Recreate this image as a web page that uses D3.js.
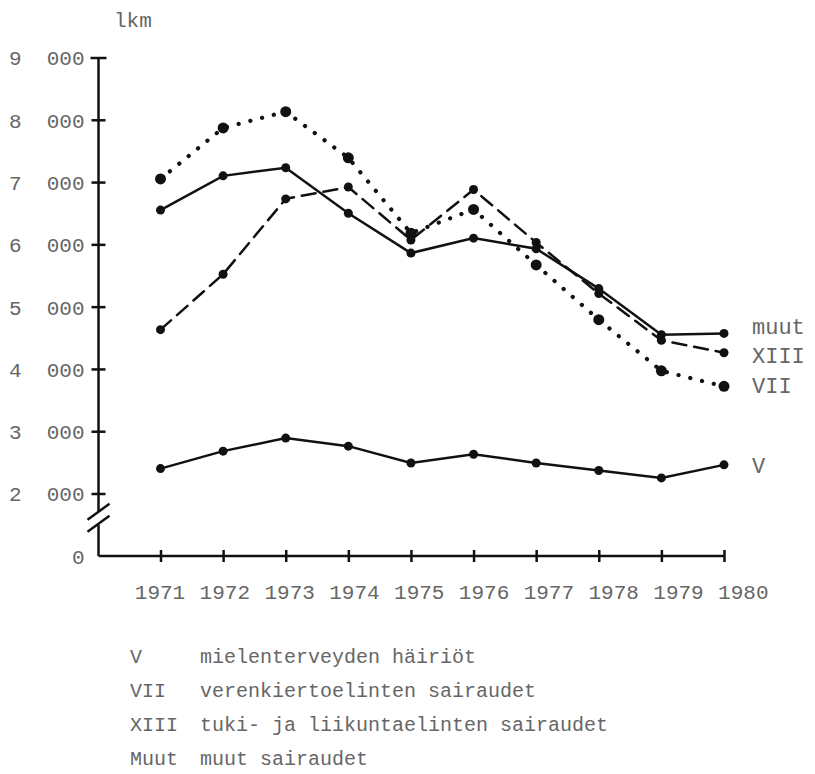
<!DOCTYPE html>
<html lang="fi">
<head>
    <meta charset="UTF-8">
    <title>lkm 1971-1980</title>
    <script src="https://d3js.org/d3.v7.min.js"></script>
    <style>
        body { margin: 0; background: #fff; }
        svg { display: block; }
        text {
            font-family: "Liberation Mono", "DejaVu Sans Mono", monospace;
            font-size: 21px;
            fill: #666;
            white-space: pre;
        }
        .legend text { font-size: 20px; }
        .axis path, .axis line { stroke: #111; stroke-width: 2.5; }
    </style>
</head>
<body>
    <svg id="chart" width="815" height="774"></svg>
    <script>
        // values
        const years = [1971, 1972, 1973, 1974, 1975, 1976, 1977, 1978, 1979, 1980];
        const muut = [6550, 7100, 7230, 6500, 5860, 6100, 5930, 5290, 4550, 4570];
        const xiii = [4630, 5520, 6730, 6920, 6070, 6880, 6030, 5210, 4460, 4260];
        const vii = [7050, 7870, 8130, 7390, 6180, 6560, 5670, 4790, 3970, 3720];
        const v = [2400, 2680, 2890, 2760, 2490, 2630, 2490, 2370, 2250, 2460];
        const yTicks = [0, 2000, 3000, 4000, 5000, 6000, 7000, 8000, 9000];
        const legendRows = [
            ["V", "mielenterveyden häiriöt"],
            ["VII", "verenkiertoelinten sairaudet"],
            ["XIII", "tuki- ja liikuntaelinten sairaudet"],
            ["Muut", "muut sairaudet"]
        ];

        const series = [
            { name: "muut", values: muut, dash: null, width: 2.5, r: 4.5 },
            { name: "XIII", values: xiii, dash: "14 8", width: 2.5, r: 4.5 },
            { name: "VII", values: vii, dash: "0.1 12", width: 4.2, r: 5.5 },
            { name: "V", values: v, dash: null, width: 2.5, r: 4.5 }
        ];

        const svg = d3.select("#chart");
        const axisX = 98.5, axisY = 556;

        const x = d3.scaleLinear().domain([1971, 1980]).range([160.5, 724]);
        // broken axis: 0 sits one step below 2 000
        const y = d3.scaleLinear().domain([0, 2000, 9000]).range([axisY, 493.5, 57.5]);

        // y axis
        const yAxis = svg.append("g")
            .attr("class", "axis")
            .attr("transform", `translate(${axisX},0)`)
            .call(d3.axisLeft(y).tickValues(yTicks).tickSize(0).tickPadding(14)
                .tickFormat(d => d === 0 ? "0" : `${d / 1000}  000`));
        yAxis.select(".domain").attr("d", `M0,${y(9000)}V${axisY}`);
        yAxis.selectAll(".tick text").attr("dy", "0.35em");
        yAxis.selectAll(".tick").filter(d => d > 0).append("line")
            .attr("x1", -7).attr("x2", 7);
        yAxis.selectAll(".tick").filter(d => d === 9000).select("line:last-child")
            .attr("x1", -8).attr("x2", 8).attr("stroke-width", 3.5);

        // axis break marks
        const brk = svg.append("g").attr("transform", `translate(${axisX},${y(1000)})`);
        brk.append("rect").attr("x", -4).attr("y", -13).attr("width", 8).attr("height", 13).attr("fill", "#fff");
        [0, 12].forEach(dy0 => {
            brk.append("line")
                .attr("x1", -11).attr("y1", dy0 - 5)
                .attr("x2", 11).attr("y2", dy0 - 21)
                .attr("stroke", "#111").attr("stroke-width", 2.5);
        });

        // x axis (typed labels drift a little to the right of the ticks)
        const xAxis = svg.append("g")
            .attr("class", "axis")
            .attr("transform", `translate(0,${axisY})`)
            .call(d3.axisBottom(x).tickValues(years).tickSize(0).tickPadding(28)
                .tickFormat(d3.format("d")));
        xAxis.select(".domain").attr("d", `M${axisX},0H${x(1980)}`);
        xAxis.selectAll(".tick text").attr("dx", d => (d - 1971) * 2.2 - 1);
        xAxis.selectAll(".tick").append("line")
            .attr("y1", -6).attr("y2", 6);

        // lines
        const line = d3.line()
            .x((d, i) => x(years[i]))
            .y(d => y(d));

        series.forEach(s => {
            svg.append("path")
                .datum(s.values)
                .attr("fill", "none")
                .attr("stroke", "#111")
                .attr("stroke-width", s.width)
                .attr("stroke-linecap", s.dash ? "round" : "butt")
                .attr("stroke-dasharray", s.dash)
                .attr("d", line);
            svg.append("g").selectAll("circle")
                .data(s.values)
                .join("circle")
                .attr("cx", (d, i) => x(years[i]))
                .attr("cy", d => y(d))
                .attr("r", s.r)
                .attr("fill", "#111");
        });

        // series labels at the right
        const endLabels = [["muut", 326], ["XIII", 355], ["VII", 385], ["V", 465]];
        svg.append("g").selectAll("text")
            .data(endLabels)
            .join("text")
            .attr("x", 752)
            .attr("y", d => d[1])
            .attr("dy", "0.35em")
            .style("font-size", "22px")
            .text(d => d[0]);

        // unit
        svg.append("text").attr("x", 114).attr("y", 20).attr("dy", "0.35em").text("lkm");

        // legend
        const leg = svg.append("g").attr("class", "legend");
        legendRows.forEach((r, i) => {
            leg.append("text").attr("x", 130).attr("y", 656 + i * 34).attr("dy", "0.35em").text(r[0]);
            leg.append("text").attr("x", 200).attr("y", 656 + i * 34).attr("dy", "0.35em").text(r[1]);
        });
    </script>
</body>
</html>
